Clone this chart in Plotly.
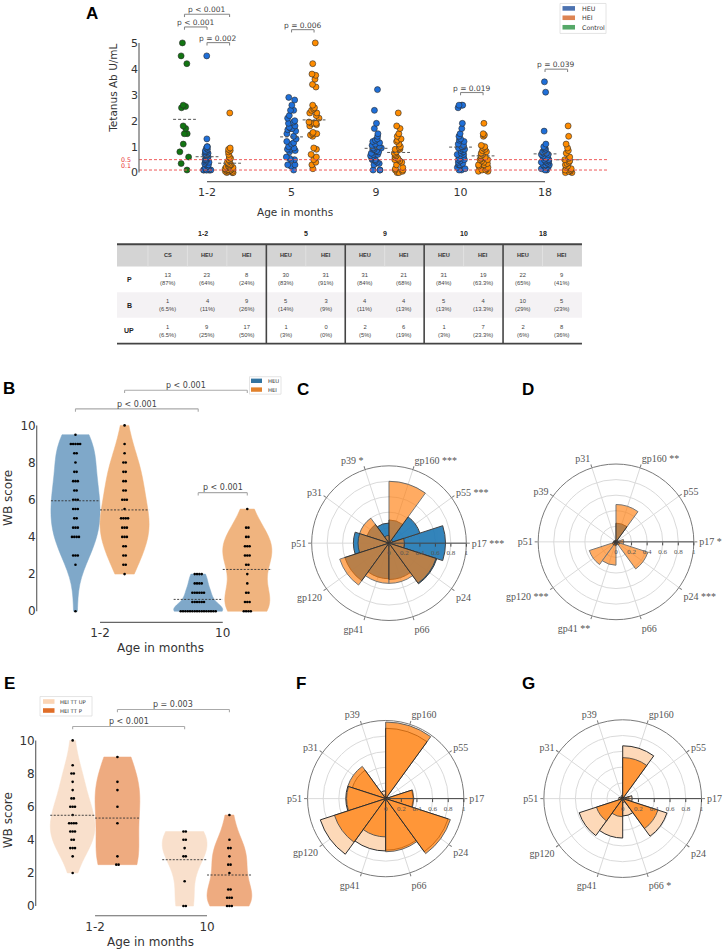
import numpy as np
import plotly.graph_objects as go

W, H = 723, 949
def X(px): return px / W
def Y(py): return 1 - py / H

FONT = "DejaVu Sans"
SERIF = "Liberation Serif"
TFONT = "Liberation Sans"

# ---------------- Panel A data (Tetanus Ab U/mL) ----------------
ages = ["1-2", "5", "9", "10", "18"]
ab_ctrl_12 = [5.0, 4.5, 4.2, 2.6, 2.55, 2.5, 1.8, 1.7, 1.5, 1.5, 1.1, 0.8, 0.6, 0.35, 0.1]
ab_heu_12 = [4.5, 1.3, 1.0, 1.0, 0.95, 0.9, 0.85, 0.8, 0.75, 0.7, 0.7, 0.65, 0.6, 0.6, 0.55, 0.5, 0.5,
             0.45, 0.4, 0.4, 0.35, 0.3, 0.3, 0.25, 0.2, 0.2, 0.15, 0.1, 0.1, 0.1, 0.1, 0.1, 0.1, 0.1, 0.7, 0.8]
ab_hei_12 = [2.3, 0.95, 0.9, 0.85, 0.8, 0.7, 0.6, 0.55, 0.5, 0.45, 0.4, 0.35, 0.3, 0.3, 0.25, 0.25, 0.2,
             0.2, 0.15, 0.15, 0.1, 0.1, 0.1, 0.1, 0.1, 0.05, 0.05, 0.05, 0.0, 0.0, 0.0, 0.12, 0.18, 0.22]
ab_heu_5 = [2.9, 2.8, 2.6, 2.4, 2.4, 2.2, 2.0, 1.9, 1.8, 1.7, 1.7, 1.6, 1.5, 1.4, 1.3, 1.2, 1.0, 0.95,
            0.9, 0.9, 0.85, 0.8, 0.6, 0.55, 0.5, 0.5, 2.1, 1.95, 1.75, 0.3, 0.3, 0.25, 1.15, 0.1, 1.1, 1.65]
ab_hei_5 = [5.0, 4.2, 3.8, 3.75, 3.6, 3.4, 3.3, 2.6, 2.5, 2.45, 2.4, 2.3, 2.3, 2.2, 2.1, 1.95, 1.9,
            1.9, 1.9, 1.85, 1.8, 1.55, 1.5, 1.5, 1.45, 1.4, 0.95, 0.9, 0.7, 0.6, 0.5, 0.4, 0.3, 0.15]
ab_heu_9 = [3.2, 2.4, 1.9, 1.7, 1.5, 1.4, 1.3, 1.2, 1.1, 1.0, 1.0, 0.95, 0.9, 0.9, 0.85, 0.8, 0.8,
            0.75, 0.7, 0.7, 0.65, 0.6, 0.6, 0.55, 0.5, 0.5, 0.45, 0.4, 0.35, 0.3, 1.25, 1.15, 1.05,
            0.95, 0.1, 0.1, 0.1]
ab_hei_9 = [2.3, 1.8, 1.7, 1.5, 1.4, 1.3, 1.25, 1.2, 1.1, 1.0, 0.95, 0.9, 0.9, 0.8, 0.75, 0.7, 0.65,
            0.6, 0.55, 0.5, 0.5, 0.45, 0.4, 0.3, 0.2, 0.15, 0.1, 0.1, 0.05, 0.0, 0.0]
ab_heu_10 = [2.6, 2.6, 2.6, 2.5, 1.9, 1.7, 1.5, 1.4, 1.3, 1.1, 1.05, 1.0, 1.0, 0.95, 0.9, 0.85, 0.8,
             0.75, 0.7, 0.7, 0.65, 0.6, 0.55, 0.5, 0.5, 0.45, 0.4, 0.35, 0.3, 0.3, 1.2, 1.25, 0.2,
             0.15, 0.1, 0.1, 0.9]
ab_hei_10 = [1.9, 1.5, 1.45, 1.4, 1.05, 1.0, 0.95, 0.9, 0.85, 0.8, 0.75, 0.7, 0.65, 0.6, 0.55, 0.5,
             0.5, 0.45, 0.4, 0.35, 0.3, 0.3, 0.25, 0.2, 0.15, 0.1, 0.1, 0.05, 0.05, 0.6]
ab_heu_18 = [3.5, 3.1, 1.6, 1.1, 1.0, 0.95, 0.9, 0.85, 0.8, 0.75, 0.7, 0.7, 0.65, 0.6, 0.55, 0.5, 0.5,
             0.45, 0.4, 0.4, 0.35, 0.3, 0.3, 0.25, 0.2, 0.15, 0.1, 0.1, 0.75, 0.6, 0.5, 0.45, 0.3, 0.2]
ab_hei_18 = [1.8, 1.4, 1.1, 0.95, 0.85, 0.75, 0.6, 0.55, 0.5, 0.45, 0.4, 0.35, 0.3, 0.25, 0.2, 0.15,
             0.1, 0.05, 0.05, 0.0, 0.0, 0.1]
thresholds = [0.5, 0.1]
a_pvals = [("p < 0.001", 0, "Control", 0, "HEI"), ("p < 0.001", 0, "Control", 0, "HEU"),
           ("p = 0.002", 0, "HEU", 0, "HEI"), ("p = 0.006", 1, "HEU", 1, "HEI"),
           ("p = 0.019", 3, "HEU", 3, "HEI"), ("p = 0.039", 4, "HEU", 4, "HEI")]

# ---------------- Table data ----------------
tbl_groups = ["1-2", "5", "9", "10", "18"]
tbl_group_span = [3, 2, 2, 2, 2]
tbl_cols = ["CS", "HEU", "HEI", "HEU", "HEI", "HEU", "HEI", "HEU", "HEI", "HEU", "HEI"]
tbl_rows = ["P", "B", "UP"]
tbl_P = [13, 23, 8, 30, 31, 31, 21, 31, 19, 22, 9]
tbl_P_pct = ["87%", "64%", "24%", "83%", "91%", "84%", "68%", "84%", "63.3%", "65%", "41%"]
tbl_B = [1, 4, 9, 5, 3, 4, 4, 5, 4, 10, 5]
tbl_B_pct = ["6.5%", "11%", "26%", "14%", "9%", "11%", "13%", "13%", "13.3%", "29%", "23%"]
tbl_UP = [1, 9, 17, 1, 0, 2, 6, 1, 7, 2, 8]
tbl_UP_pct = ["6.5%", "25%", "50%", "3%", "0%", "5%", "19%", "3%", "23.3%", "6%", "36%"]

# ---------------- Panel B data (WB score) ----------------
b_ages = ["1-2", "10"]
wb_heu_12 = [9.5, 9, 9, 9, 9, 9, 8.5, 8.5, 8, 7.5, 7.5, 7, 7, 7, 6.5, 6.5, 6, 6, 6, 5.5, 5.5, 5.5,
             5, 5, 4.5, 4.5, 4.5, 4, 4, 4, 4, 3, 3, 3, 2.5, 0]
wb_hei_12 = [10, 9, 8.5, 8, 8, 7.5, 7.5, 7, 7, 6.5, 6.5, 6, 6, 6, 5.5, 5, 5, 5, 5, 4.5, 4.5, 4.5,
             4, 4, 4, 3.5, 3.5, 3, 3, 2.5, 2.5, 2]
wb_heu_10 = [2, 2, 2, 2, 1.5, 1.5, 1.5, 1.5, 1, 1, 1, 1, 1, 1, 0.5, 0.5, 0.5, 0.5, 0.5, 0.5,
             0, 0, 0, 0, 0, 0, 0, 0, 0, 0, 0, 0, 0, 0, 0, 0]
wb_hei_10 = [5.5, 4.5, 4.5, 4, 4, 3.5, 3.5, 3.5, 3, 3, 3, 2.5, 2.5, 2, 1.5, 1, 1, 0.5, 0.5, 0.5,
             0, 0, 0, 0]

# ---------------- Panel E data ----------------
wb_up_12 = [10, 8.5, 8, 8, 7.5, 7, 6.5, 6.5, 6, 6, 6, 5.5, 5, 5, 5, 5, 4.5, 4.5, 4.5, 4, 4,
            3.5, 3.5, 3.5, 3, 2]
wb_p_12 = [9, 7.5, 7, 6, 5, 3, 2.5, 2.5]
wb_up_10 = [4.5, 4.5, 4, 4, 3.5, 3, 3, 1.5, 0, 0]
wb_p_10 = [5.5, 4, 3.5, 3.5, 3, 2.5, 2.5, 2, 1, 1, 0.5, 0.5, 0.5, 0, 0, 0]

# ---------------- Polar data ----------------
cats_C = ["p17", "p55", "gp160", "p39", "p31", "p51", "gp120", "gp41", "p66", "p24"]
sig_C = ["***", "***", "***", "*", "", "", "", "", "", ""]
heu_C = [0.73, 0.42, 0.30, 0.26, 0.30, 0.46, 0.60, 0.46, 0.47, 0.65]
hei_C = [0.20, 0.05, 0.80, 0.10, 0.40, 0.40, 0.67, 0.52, 0.52, 0.64]

cats_D = ["p17", "p55", "gp160", "p31", "p39", "p51", "gp120", "gp41", "p66", "p24"]
sig_D = ["*", "", "**", "", "", "", "***", "**", "", "***"]
heu_D = [0.03, 0.02, 0.24, 0.02, 0.02, 0.03, 0.05, 0.05, 0.03, 0.05]
hei_D = [0.10, 0.02, 0.48, 0.02, 0.02, 0.03, 0.36, 0.30, 0.03, 0.43]

cats_F = ["p17", "p55", "gp160", "p39", "p31", "p51", "gp120", "gp41", "p66", "p24"]
sig_F = ["", "", "", "", "", "", "", "", "", ""]
up_F = [0.35, 0.03, 0.90, 0.10, 0.45, 0.51, 0.88, 0.67, 0.66, 0.84]
p_F = [0.36, 0.02, 0.98, 0.05, 0.51, 0.50, 0.69, 0.49, 0.68, 0.87]

cats_G = ["p17", "p55", "gp160", "p39", "p31", "p51", "gp120", "gp41", "p66", "p24"]
sig_G = ["", "", "", "", "", "", "", "", "*", ""]
up_G = [0.12, 0.02, 0.67, 0.04, 0.02, 0.05, 0.58, 0.50, 0.22, 0.59]
p_G = [0.08, 0.02, 0.52, 0.02, 0.02, 0.03, 0.35, 0.23, 0.05, 0.47]

# ---------------- colours ----------------
C_BLUE, C_ORANGE, C_GREEN = "#1f6fd8", "#ff8c00", "#127512"
LEG_A = {"HEU": "#4c72b0", "HEI": "#dd8452", "Control": "#55a868"}
V_HEU, V_HEI = "#7fa8c9", "#f0b47f"
LEG_B = {"HEU": "#3274a1", "HEI": "#e1812c"}
V_UP, V_P = "#f9e0cc", "#eeab80"
LEG_E = {"HEI TT UP": "#fbd5b5", "HEI TT P": "#e06e28"}

fig = go.Figure()
shapes, annos = [], []

def line(x0, y0, x1, y1, xref="paper", yref="paper", color="#555", width=1, dash=None):
    d = dict(type="line", x0=x0, y0=y0, x1=x1, y1=y1, xref=xref, yref=yref,
             line=dict(color=color, width=width))
    if dash:
        d["line"]["dash"] = dash
    shapes.append(d)

def text(x, y, s, size=8, color="#333", xref="paper", yref="paper", xanchor="center",
         yanchor="middle", family=FONT, angle=0, yshift=0):
    annos.append(dict(x=x, y=y, text=s, xref=xref, yref=yref, showarrow=False, xanchor=xanchor,
                      yanchor=yanchor, textangle=angle, yshift=yshift,
                      font=dict(family=family, size=size, color=color)))

# ================= Panel A =================
OFF = 0.8 / 3
hue_off = {"Control": -OFF, "HEU": 0.0, "HEI": OFF}
a_sets = {"Control": [ab_ctrl_12],
          "HEU": [ab_heu_12, ab_heu_5, ab_heu_9, ab_heu_10, ab_heu_18],
          "HEI": [ab_hei_12, ab_hei_5, ab_hei_9, ab_hei_10, ab_hei_18]}
a_col = {"Control": C_GREEN, "HEU": C_BLUE, "HEI": C_ORANGE}

for hue in ["Control", "HEU", "HEI"]:
    xs, ys = [], []
    for i, vals in enumerate(a_sets[hue]):
        xs += [i + hue_off[hue]] * len(vals)
        ys += vals
    fig.add_trace(go.Box(x=xs, y=ys, xaxis="x", yaxis="y", boxpoints="all", jitter=1.0, pointpos=0,
                         width=0.13, fillcolor="rgba(0,0,0,0)",
                         line=dict(color="rgba(0,0,0,0)", width=0), whiskerwidth=0,
                         marker=dict(color=a_col[hue], size=6, line=dict(color="#2a2a2a", width=0.6)),
                         showlegend=False, hoverinfo="skip"))
mx, my = [], []
for hue in ["Control", "HEU", "HEI"]:
    for i, vals in enumerate(a_sets[hue]):
        c = i + hue_off[hue]
        m = float(np.mean(vals))
        mx += [c - 0.135, c + 0.135, None]
        my += [m, m, None]
fig.add_trace(go.Scatter(x=mx, y=my, xaxis="x", yaxis="y", mode="lines",
                         line=dict(color="#555", width=1, dash="3px,2px"), hoverinfo="skip",
                         showlegend=False))

for t, ysh in zip(thresholds, [0, 5]):
    line(0, t, 1, t, xref="x domain", yref="y", color="#ee5a5a", width=1, dash="3px,2px")
    text(X(133), t, str(t), size=6.3, color="#e83030", yref="y", xanchor="right", yshift=ysh)
line(X(139), 0, X(139), 5, yref="y", color="#666", width=1.2)
line(0, Y(180), 4, Y(180), xref="x", color="#666", width=1.2)
text(X(113), Y(87), "Tetanus Ab U/mL", size=10.5, angle=-90)
text(X(295), Y(210), "Age in months", size=10.5)

def bracket(xref, xa, xb, ly, ty, s, size=7.5, color="#888", tcolor="#444", leg=2.8):
    line(xa, Y(ly), xb, Y(ly), xref=xref, color=color, width=1.1)
    line(xa, Y(ly), xa, Y(ly + leg), xref=xref, color=color, width=1.1)
    line(xb, Y(ly), xb, Y(ly + leg), xref=xref, color=color, width=1.1)
    text((xa + xb) / 2, Y(ty), s, size=size, color=tcolor, xref=xref)

a_br_y = [(12.3, 7.5), (25.0, 21.0), (40.7, 36.5), (27.7, 23.5), (90.7, 86.5), (67.3, 63.0)]
for (s, i0, h0, i1, h1), (ly, ty) in zip(a_pvals, a_br_y):
    bracket("x", i0 + hue_off[h0], i1 + hue_off[h1], ly, ty, s)

shapes.append(dict(type="rect", x0=X(560), x1=X(606), y0=Y(31.5), y1=Y(1.5), xref="paper",
                   yref="paper", line=dict(color="#ddd", width=0.8), fillcolor="white"))
for nm, yy in zip(["HEU", "HEI", "Control"], [6.4, 15.8, 25.3]):
    shapes.append(dict(type="rect", x0=X(562.5), x1=X(575), y0=Y(yy + 2.3), y1=Y(yy - 2.3),
                       xref="paper", yref="paper", line=dict(width=0), fillcolor=LEG_A[nm]))
    text(X(580), Y(yy), nm, size=6.3, xanchor="left")

# ================= Table =================
T_L, C0, CW = 117, 148, 39.45
T_TOP, H_BOT, T_BOT = 242.7, 265.0, 342.3
RH = (T_BOT - H_BOT) / 3
shapes.append(dict(type="rect", x0=X(T_L), x1=X(C0 + 11 * CW), y0=Y(H_BOT), y1=Y(T_TOP),
                   xref="paper", yref="paper", line=dict(width=0), fillcolor="#d4d4d4"))
shapes.append(dict(type="rect", x0=X(T_L), x1=X(C0 + 11 * CW), y0=Y(H_BOT + 2 * RH),
                   y1=Y(H_BOT + RH), xref="paper", yref="paper", line=dict(width=0),
                   fillcolor="#f4f2f4"))
for j in range(0, 11):
    line(X(C0 + j * CW), Y(T_TOP), X(C0 + j * CW), Y(H_BOT), color="#e4e4e4", width=0.8)
line(X(T_L), Y(T_TOP), X(C0 + 11 * CW), Y(T_TOP), color="#444", width=2)
line(X(T_L), Y(T_BOT), X(C0 + 11 * CW), Y(T_BOT), color="#444", width=1.6)
start = 0
for g, span in zip(tbl_groups, tbl_group_span):
    cx = C0 + (start + span / 2) * CW
    if start == 0:
        cx -= 4
    text(X(cx), Y(232), "<b>" + g + "</b>", size=7, family=TFONT, color="#222")
    if start > 0:
        line(X(C0 + start * CW), Y(T_TOP), X(C0 + start * CW), Y(T_BOT), color="#444", width=1.6)
    start += span
for j, c in enumerate(tbl_cols):
    text(X(C0 + (j + 0.5) * CW), Y((T_TOP + H_BOT) / 2), "<b>" + c + "</b>", size=5.6,
         family=TFONT, color="#333")
for r, (rname, cnts, pcts) in enumerate(zip(tbl_rows, [tbl_P, tbl_B, tbl_UP],
                                              [tbl_P_pct, tbl_B_pct, tbl_UP_pct])):
    cy = H_BOT + (r + 0.5) * RH
    text(X(129), Y(cy), "<b>" + rname + "</b>", size=7, family=TFONT, color="#222")
    for j, (n, p) in enumerate(zip(cnts, pcts)):
        text(X(C0 + (j + 0.5) * CW), Y(cy), f"{n}<br>({p})", size=5.8, family=TFONT, color="#444")

# ================= Violin helpers =================
def swarm(vals, center, step):
    xs, ys = [], []
    arr = np.array(vals, dtype=float)
    for u in np.unique(arr):
        k = int(np.sum(arr == u))
        offs = (np.arange(k) - (k - 1) / 2) * step
        xs += list(center + offs)
        ys += [float(u)] * k
    return xs, ys

def violin_panel(xa, ya, sets, step):
    for pos, vals, col, sg in sets:
        v = np.array(vals, dtype=float)
        bw = float(np.std(v, ddof=1) * len(v) ** (-0.2))
        fig.add_trace(go.Violin(x=[pos] * len(vals), y=vals, xaxis=xa, yaxis=ya, width=0.4,
                                fillcolor=col, line=dict(color=col, width=0.5), opacity=1,
                                points=False, spanmode="hard", bandwidth=bw, scalegroup=sg,
                                scalemode="width", box_visible=False, meanline_visible=False,
                                showlegend=False, hoverinfo="skip"))
    sx, sy, lx, ly = [], [], [], []
    for pos, vals, col, sg in sets:
        a, b = swarm(vals, pos, step)
        sx += a; sy += b
        m = float(np.mean(vals))
        lx += [pos - 0.2, pos + 0.2, None]
        ly += [m, m, None]
    fig.add_trace(go.Scatter(x=sx, y=sy, xaxis=xa, yaxis=ya, mode="markers",
                             marker=dict(color="black", size=2.6), hoverinfo="skip", showlegend=False))
    fig.add_trace(go.Scatter(x=lx, y=ly, xaxis=xa, yaxis=ya, mode="lines",
                             line=dict(color="#333", width=0.9, dash="2px,1.5px"), hoverinfo="skip",
                             showlegend=False))

# ================= Panel B =================
violin_panel("x2", "y2", [(-0.2, wb_heu_12, V_HEU, "b0"), (0.2, wb_hei_12, V_HEI, "b0"),
                          (0.8, wb_heu_10, V_HEU, "b1"), (1.2, wb_hei_10, V_HEI, "b1")], 0.019)
line(X(36.7), 0, X(36.7), 10, yref="y2", color="#666", width=1.2)
line(0, Y(621.7), 1, Y(621.7), xref="x2", color="#666", width=1.2)
text(X(8), Y(497), "WB score", size=12, angle=-90)
text(X(160), Y(647), "Age in months", size=12)
bracket("x2", -0.2, 0.8, 407.7, 403.0, "p < 0.001", size=8, color="#aaa")
bracket("x2", 0.2, 1.2, 389.0, 384.3, "p < 0.001", size=8, color="#aaa")
bracket("x2", 0.8, 1.2, 491.7, 487.0, "p < 0.001", size=8, color="#aaa")
shapes.append(dict(type="rect", x0=X(249.5), x1=X(281), y0=Y(393), y1=Y(375.5), xref="paper",
                   yref="paper", line=dict(color="#ddd", width=0.8), fillcolor="white"))
for nm, yy in zip(["HEU", "HEI"], [379.6, 388.4]):
    shapes.append(dict(type="rect", x0=X(251), x1=X(262), y0=Y(yy + 2.2), y1=Y(yy - 2.2),
                       xref="paper", yref="paper", line=dict(width=0), fillcolor=LEG_B[nm]))
    text(X(265.5), Y(yy), nm, size=5.3, xanchor="left")

# ================= Panel E =================
violin_panel("x3", "y3", [(-0.2, wb_up_12, V_UP, "e0"), (0.2, wb_p_12, V_P, "e0"),
                          (0.8, wb_up_10, V_UP, "e1"), (1.2, wb_p_10, V_P, "e1")], 0.021)
line(X(35.7), 0, X(35.7), 10, yref="y3", color="#666", width=1.2)
line(0, Y(915.7), 1, Y(915.7), xref="x3", color="#666", width=1.2)
text(X(8), Y(820), "WB score", size=12, angle=-90)
text(X(150), Y(941.5), "Age in months", size=12)
bracket("x3", -0.2, 0.8, 726.0, 721.3, "p < 0.001", size=8, color="#aaa")
bracket("x3", 0.2, 1.2, 709.0, 704.3, "p = 0.003", size=8, color="#aaa")
shapes.append(dict(type="rect", x0=X(40), x1=X(92), y0=Y(715.5), y1=Y(696), xref="paper",
                   yref="paper", line=dict(color="#ddd", width=0.8), fillcolor="white"))
for nm, yy in zip(["HEI TT UP", "HEI TT P"], [701.0, 710.0]):
    shapes.append(dict(type="rect", x0=X(43), x1=X(54.5), y0=Y(yy + 2.3), y1=Y(yy - 2.3),
                       xref="paper", yref="paper", line=dict(width=0), fillcolor=LEG_E[nm]))
    text(X(58), Y(yy), nm, size=5.3, xanchor="left")

# ================= Polar panels =================
def labels(cats, sig):
    return [c + (" " + s if s else "") for c, s in zip(cats, sig)]

def polar_layout(cx, cy, R, cats):
    return dict(domain=dict(x=[X(cx - R), X(cx + R)], y=[Y(cy + R), Y(cy - R)]), bgcolor="white",
                bargap=0, hole=0, barmode="overlay",
                angularaxis=dict(type="category", categoryorder="array", categoryarray=cats,
                                 direction="counterclockwise", rotation=0, showline=True,
                                 linecolor="#7a7a7a", linewidth=1, gridcolor="#dadada",
                                 ticks="outside", ticklen=3, tickcolor="#7a7a7a",
                                 tickfont=dict(family=SERIF, size=10, color="#555")),
                radialaxis=dict(range=[0, 1], tickvals=[0, 0.2, 0.4, 0.6, 0.8, 1.0],
                                ticktext=["0", "0.2", "0.4", "0.6", "0.8", "1"], angle=0,
                                side="clockwise", showline=True, linecolor="#444", linewidth=1,
                                ticks="outside", ticklen=3, tickcolor="#444", gridcolor="#dadada",
                                tickfont=dict(family=SERIF, size=7, color="#555"), tickangle=0))

polar_specs = [
    ("polar", 389, 542.3, 77.5, labels(cats_C, sig_C),
     [(heu_C, "#1f77b4", 0.9), (hei_C, "#ff7f0e", 0.65)]),
    ("polar2", 616, 541, 78, labels(cats_D, sig_D),
     [(heu_D, "#1f77b4", 0.9), (hei_D, "#ff7f0e", 0.65)]),
    ("polar3", 385.7, 798.3, 78.3, labels(cats_F, sig_F),
     [(up_F, "#fdd9b9", 1.0), (p_F, "#ff7f0e", 0.75)]),
    ("polar4", 622.7, 798.3, 79, labels(cats_G, sig_G),
     [(up_G, "#fdd9b9", 1.0), (p_G, "#ff7f0e", 0.75)]),
]
polar_layouts = {}
for sub, cx, cy, R, labs, series in polar_specs:
    polar_layouts[sub] = polar_layout(cx, cy, R, labs)
    for r, col, op in series:
        fig.add_trace(go.Barpolar(r=r, theta=labs, subplot=sub, opacity=op,
                                  marker=dict(color=col, line=dict(color="#2d2d2d", width=1)),
                                  showlegend=False, hoverinfo="skip"))

for s, x, y in [("A", 92, 12), ("B", 9, 387), ("C", 303, 388), ("D", 528, 388),
                ("E", 9, 683), ("F", 301, 683), ("G", 528, 683)]:
    text(X(x), Y(y), "<b>" + s + "</b>", size=17, family="Liberation Sans", color="#000")

ax_common = dict(showgrid=False, zeroline=False, showline=False, ticks="")
fig.update_layout(
    width=W, height=H, margin=dict(l=0, r=0, t=0, b=0), paper_bgcolor="white",
    plot_bgcolor="white", font=dict(family=FONT, color="#333"), showlegend=False,
    boxmode="overlay", violinmode="overlay",
    xaxis=dict(domain=[X(139), X(609)], range=[-0.805, 4.757], tickvals=list(range(len(ages))),
               ticktext=ages, tickfont=dict(size=11), anchor="y", **ax_common),
    yaxis=dict(domain=[Y(181.9), Y(34.5)], range=[-0.42, 5.25], tickvals=[0, 1, 2, 3, 4, 5],
               tickfont=dict(size=11), anchor="x", **ax_common),
    xaxis2=dict(domain=[X(36.7), X(290)], range=[-0.516, 1.548], tickvals=[0, 1],
                ticktext=b_ages, tickfont=dict(size=12), anchor="y2", **ax_common),
    yaxis2=dict(domain=[Y(623.6), Y(418.7)], range=[-0.7, 10.3], tickvals=[0, 2, 4, 6, 8, 10],
                tickfont=dict(size=12), anchor="x2", **ax_common),
    xaxis3=dict(domain=[X(35.7), X(290)], range=[-0.53, 1.741], tickvals=[0, 1],
                ticktext=b_ages, tickfont=dict(size=12), anchor="y3", **ax_common),
    yaxis3=dict(domain=[Y(917.6), Y(735)], range=[-0.7, 10.3], tickvals=[0, 2, 4, 6, 8, 10],
                tickfont=dict(size=12), anchor="x3", **ax_common),
    shapes=shapes, annotations=annos, **polar_layouts,
)

fig.write_html("out.html", config={"displayModeBar": False},
               post_script="document.body.style.margin='0';document.body.style.overflow='hidden';")
